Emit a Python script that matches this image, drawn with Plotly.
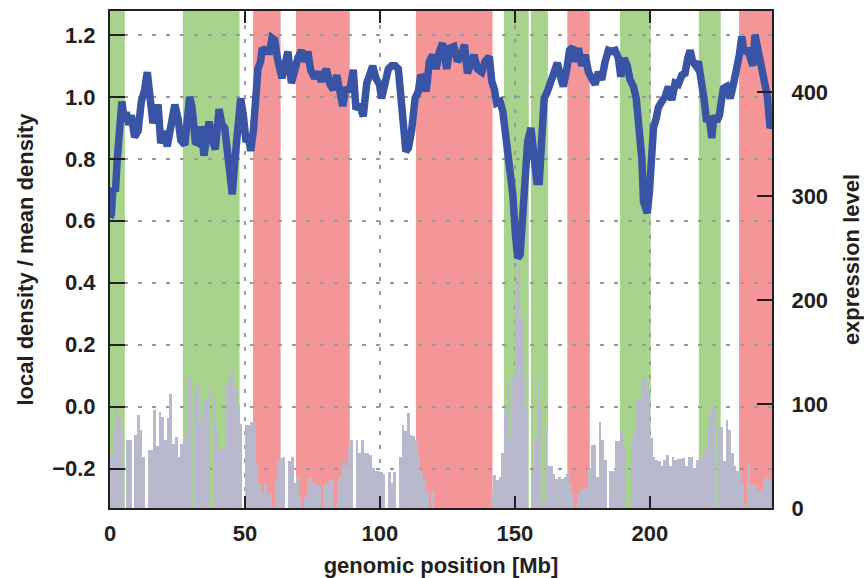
import plotly.graph_objects as go

# ---------------- data ----------------
# local density / mean density (left axis), traced along genomic position [Mb]
density_pos = [0, 0.5, 1.1, 2, 2.7, 3.6, 4.4, 5.2, 6, 6.9, 7.9, 9.1, 10.4, 11.6, 12.8, 13.8, 14.7, 15.9,
               16.8, 17.8, 18.8, 20, 21.2, 22.5, 24, 25.2, 26.2, 27.7, 29.5, 30.4, 31.6, 32.8, 33.8, 34.8,
               35.7, 36.7, 37.8, 39, 40.4, 41.5, 42.5, 43.7, 44.7, 45.3, 46.2, 47.2, 48.4, 49.4, 50.4,
               51.4, 52.1, 53.1, 54.2, 54.8, 55.8, 56.4, 57.9, 59.1, 60, 61, 62, 62.8, 63.7, 64.7, 65.9,
               67.2, 68.4, 69.6, 70.9, 72.3, 73.3, 74.3, 75.8, 77, 78.3, 80.1, 81.5, 82.7, 84, 85.2,
               86.2, 87.4, 88.7, 90.1, 91.1, 92.4, 93.8, 95.1, 96.3, 97.3, 98.5, 99.8, 100.6, 101.9,
               103.1, 104.3, 105.6, 106.8, 107.7, 108.7, 109.6, 110.5, 111.7, 113, 114.2, 115.1, 116.1,
               117.1, 118.3, 119.5, 120.8, 122, 123.2, 124.7, 125.9, 127.4, 128.7, 129.9, 131.3, 132.4,
               133.6, 134.8, 136.1, 137.7, 138.9, 140.5, 141.4, 142.4, 143.2, 144.5, 145.5, 146.3, 147.2,
               148.2, 149.2, 150.1, 151, 151.9, 152.9, 153.7, 154.7, 155.9, 157.1, 158.1, 159, 159.9,
               160.8, 162, 163.2, 164.2, 165.7, 166.7, 167.9, 169.2, 170.2, 171.4, 172.3, 173.5, 174.7,
               176, 177.2, 178.4, 179.7, 180.9, 182.1, 183.4, 184.6, 185.8, 187.1, 188.3, 189.2, 190.4,
               191.6, 192.6, 193.9, 194.9, 195.7, 196.3, 197, 197.6, 198.4, 199, 199.8, 200.4, 201.3,
               202.3, 203.1, 204.4, 205.6, 206.8, 208.1, 209.3, 210.5, 211.8, 213, 214, 214.9, 215.8,
               217, 217.9, 219.2, 220, 221, 222, 222.9, 223.7, 224.7, 225.7, 226.6, 227.2, 228.4, 229.7,
               230.9, 232.1, 233.1, 234, 234.9, 236.1, 237.1, 238.1, 238.9, 239.5, 240.5, 241.4, 242.6,
               243.5, 244.5, 245.2]
density_val = [0.61, 0.62, 0.705, 0.695, 0.80, 0.93, 0.985, 0.93, 0.95, 0.91, 0.94, 0.87, 0.89, 0.985,
               1.02, 1.08, 0.995, 0.915, 0.94, 0.975, 0.85, 0.89, 0.84, 0.91, 0.975, 0.93, 0.86, 0.845,
               1.0, 0.965, 0.855, 0.85, 0.905, 0.81, 0.88, 0.92, 0.865, 0.83, 0.96, 0.91, 0.90, 0.82,
               0.725, 0.685, 0.79, 0.92, 0.995, 0.94, 0.855, 0.865, 0.825, 0.89, 1.02, 1.09, 1.115,
               1.157, 1.146, 1.146, 1.19, 1.184, 1.125, 1.10, 1.06, 1.10, 1.146, 1.044, 1.097, 1.125,
               1.15, 1.114, 1.146, 1.087, 1.06, 1.08, 1.05, 1.09, 1.04, 1.023, 1.07, 0.995, 0.97, 1.03,
               1.017, 1.087, 0.96, 0.975, 0.937, 1.044, 1.08, 1.10, 1.06, 1.04, 0.995, 1.06, 1.09, 1.10,
               1.10, 1.09, 1.005, 0.92, 0.824, 0.834, 0.89, 0.995, 1.017, 1.07, 1.06, 1.017, 1.114,
               1.135, 1.09, 1.146, 1.173, 1.09, 1.157, 1.162, 1.114, 1.13, 1.168, 1.076, 1.10, 1.135,
               1.09, 1.08, 1.114, 1.13, 1.05, 1.023, 0.98, 0.985, 0.953, 0.90, 0.80, 0.76, 0.684, 0.565,
               0.48, 0.49, 0.61, 0.76, 0.856, 0.90, 0.824, 0.727, 0.727, 0.877, 0.995, 1.017, 1.05,
               1.065, 1.11, 1.07, 1.033, 1.09, 1.15, 1.16, 1.114, 1.157, 1.10, 1.135, 1.08, 1.06, 1.04,
               1.08, 1.055, 1.114, 1.15, 1.146, 1.15, 1.125, 1.065, 1.125, 1.10, 1.055, 1.033, 0.995,
               0.93, 0.90, 0.80, 0.662, 0.645, 0.625, 0.695, 0.80, 0.90, 0.93, 0.965, 0.985, 1.0, 1.033,
               0.99, 1.044, 1.04, 1.07, 1.076, 1.125, 1.15, 1.114, 1.10, 1.114, 1.05, 0.995, 0.92, 0.93,
               0.867, 0.94, 0.92, 0.94, 0.995, 1.027, 1.033, 0.995, 1.04, 1.087, 1.135, 1.195, 1.14,
               1.157, 1.125, 1.10, 1.2, 1.173, 1.14, 1.07, 1.017, 1.0, 0.90, 0.91]

# expression level (right axis), one value per 1-Mb bin starting at 0 Mb
expression = [51, 75, 100, 87, 72, 0, 65, 65, 0, 70, 89, 75, 49, 0, 56, 56, 94, 60, 92, 88,
              65, 87, 110, 62, 68, 49, 62, 65, 65, 125, 0, 110, 117, 83, 95, 105, 115, 0, 108, 80,
              57, 57, 57, 119, 129, 137, 115, 99, 81, 0, 80, 80, 83, 83, 43, 24, 14, 24, 14, 14,
              0, 27, 44, 48, 49, 0, 45, 49, 24, 30, 11, 0, 11, 29, 29, 24, 24, 21, 0, 24,
              24, 27, 27, 0, 27, 30, 44, 40, 59, 65, 0, 65, 53, 65, 53, 53, 51, 38, 36, 36,
              35, 33, 0, 35, 24, 35, 0, 49, 80, 74, 91, 70, 69, 65, 51, 35, 27, 16, 0, 16,
              0, 0, 0, 0, 0, 0, 0, 0, 0, 0, 0, 0, 0, 0, 0, 0, 0, 0, 0, 0,
              0, 16, 32, 27, 30, 53, 94, 123, 67, 126, 216, 240, 184, 126, 94, 0, 33, 65, 125, 98,
              5, 77, 40, 40, 33, 28, 30, 28, 30, 33, 24, 14, 0, 13, 18, 18, 19, 38, 61, 61,
              30, 83, 65, 46, 0, 36, 36, 64, 64, 73, 59, 0, 0, 65, 73, 105, 104, 125, 123, 114,
              67, 49, 46, 45, 40, 46, 51, 40, 49, 46, 47, 47, 48, 40, 49, 49, 38, 46, 48, 48,
              57, 77, 91, 99, 0, 77, 78, 45, 85, 75, 53, 40, 36, 36, 24, 3, 43, 22, 22, 22,
              16, 18, 27, 30, 27]
expression_pos = [i + 0.5 for i in range(len(expression))]

# shaded domains [start, end] in Mb
green_bands = [(0, 5.5), (27, 48), (145.9, 155.1), (155.9, 162.2), (188.9, 200.3), (218.1, 226.2)]
red_bands = [(53, 63.2), (68.9, 88.8), (113.3, 141.7), (169.4, 177.7), (233, 246)]

x_ticks = [0, 50, 100, 150, 200]
left_ticks = [-0.2, 0.0, 0.2, 0.4, 0.6, 0.8, 1.0, 1.2]
right_ticks = [0, 100, 200, 300, 400]

# ---------------- styling ----------------
GREEN = "#a8d38d"
RED = "#f49698"
BAR = "#b8b9cd"
LINE = "#3953a5"
AXIS = "#231f20"
GRID = "#9a9a9a"
FONT = dict(family="Liberation Sans, Arial, sans-serif", size=22, color=AXIS, weight="bold")

fig = go.Figure()

fig.add_trace(go.Bar(
    x=expression_pos, y=expression, width=1.0,
    marker=dict(color=BAR, line=dict(width=0)),
    yaxis="y", showlegend=False, hoverinfo="skip",
))
fig.add_trace(go.Scatter(
    x=density_pos, y=density_val, mode="lines",
    line=dict(color=LINE, width=7.5),
    yaxis="y2", showlegend=False,
))

shapes = []
for a, b in green_bands:
    shapes.append(dict(type="rect", xref="x", yref="paper", x0=a, x1=b, y0=0, y1=1,
                       fillcolor=GREEN, line=dict(width=0), layer="below"))
for a, b in red_bands:
    shapes.append(dict(type="rect", xref="x", yref="paper", x0=a, x1=b, y0=0, y1=1,
                       fillcolor=RED, line=dict(width=0), layer="below"))

fig.update_layout(
    width=864, height=578,
    margin=dict(l=110, r=92, t=11, b=70),
    paper_bgcolor="white", plot_bgcolor="white",
    bargap=0,
    shapes=shapes,
    font=FONT,
    xaxis=dict(
        range=[0, 245.2], tickvals=x_ticks, ticks="inside", ticklen=12, tickwidth=2,
        tickcolor=AXIS, showline=True, linecolor=AXIS, linewidth=2, mirror="ticks",
        showgrid=True, gridcolor=GRID, griddash="4px,10px", gridwidth=1.5, zeroline=False,
        tickfont=FONT, ticklabelstandoff=5, automargin=False,
        title=dict(text="genomic position [Mb]", font=FONT, standoff=26),
    ),
    yaxis=dict(
        side="right", range=[0, 478], tickvals=right_ticks, ticks="inside", ticklen=15,
        tickwidth=2, tickcolor=AXIS, showline=True, linecolor=AXIS, linewidth=2,
        showgrid=False, zeroline=False, tickfont=FONT, ticklabelstandoff=13,
        automargin=False,
        title=dict(text="expression level", font=FONT, standoff=20),
    ),
    yaxis2=dict(
        overlaying="y", side="left", range=[-0.327, 1.277], tickvals=left_ticks,
        tickformat=".1f", ticks="inside", ticklen=15, tickwidth=2, tickcolor=AXIS,
        showline=True, linecolor=AXIS, linewidth=2,
        showgrid=True, gridcolor=GRID, griddash="4px,10px", gridwidth=1.5, zeroline=False,
        tickfont=FONT, ticklabelstandoff=8, automargin=False,
        title=dict(text="local density / mean density", font=FONT, standoff=12),
    ),
)

fig.write_html("out.html")
